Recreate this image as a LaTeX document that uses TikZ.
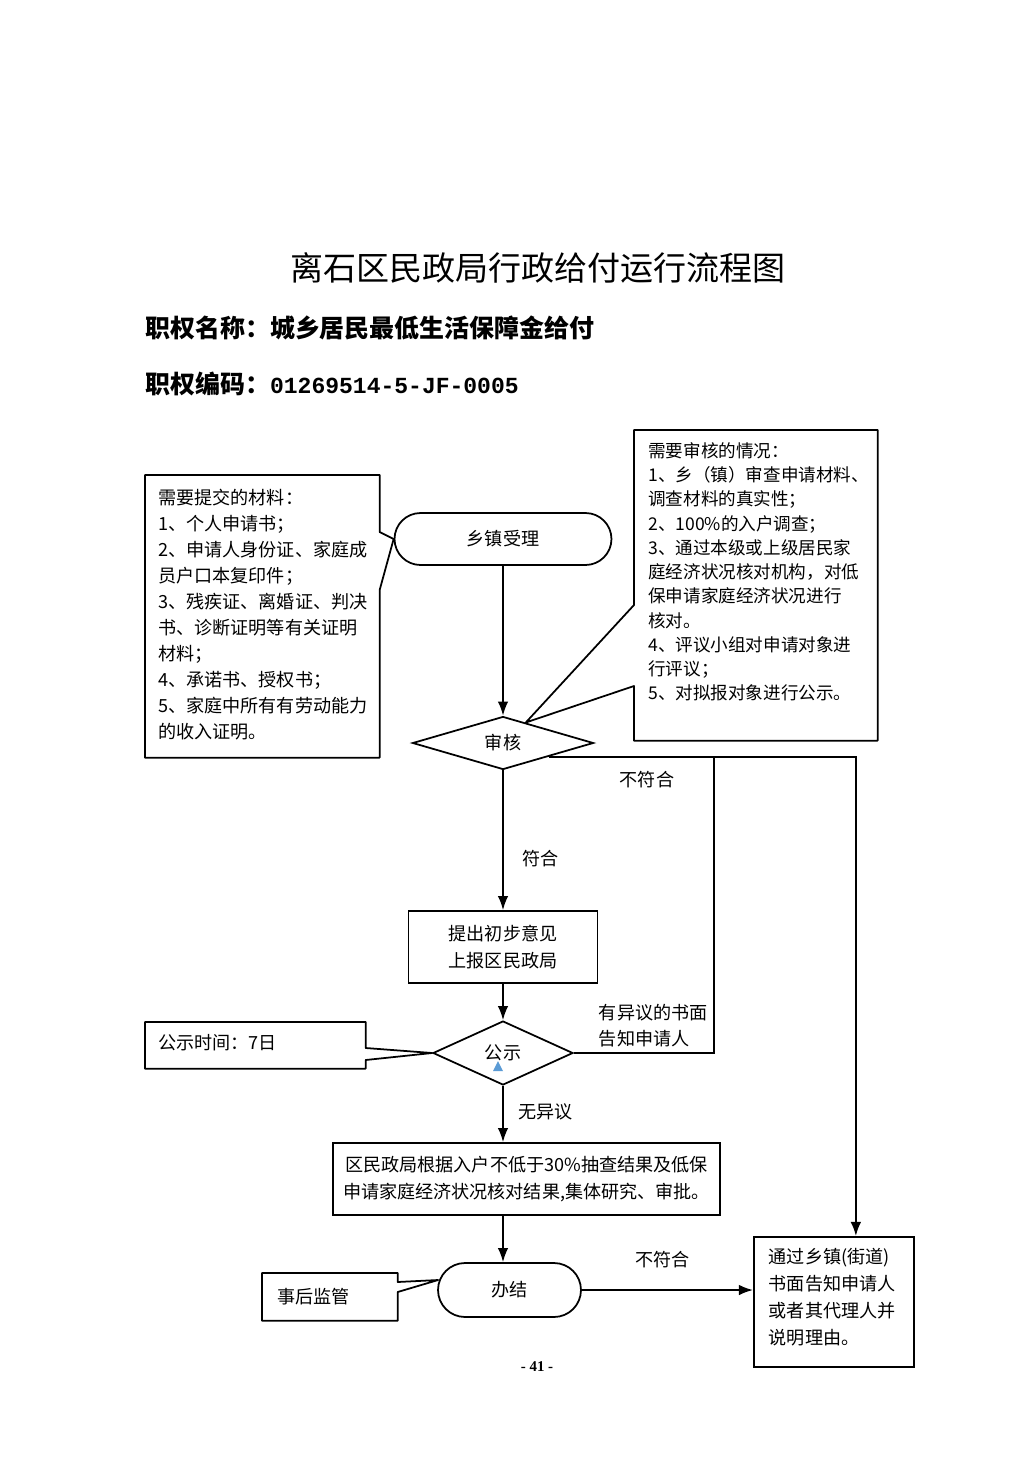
\documentclass[tikz,border=0pt]{standalone}
\usepackage{fontspec}
\setmainfont{Noto Sans CJK SC}
\newfontfamily\codefont{Liberation Mono}
\newfontfamily\pagefont{Liberation Serif}
\usetikzlibrary{shapes.geometric, arrows.meta, positioning, calc}
\definecolor{markblue}{RGB}{91,155,213}

\begin{document}
\begin{tikzpicture}[x=0.02cm, y=-0.02cm,
            box/.style={rectangle, draw, line width=1pt, align=center, font=\fontsize{10.3}{15.4}\selectfont},
            term/.style={rectangle, rounded corners=0.52cm, draw, line width=1pt, font=\fontsize{10.3}{15}\selectfont},
            check/.style={diamond, draw, line width=1pt, inner sep=0pt, font=\fontsize{10.3}{15}\selectfont},
            note/.style={rectangle, anchor=north west, inner ysep=0pt, inner xsep=0.26cm, align=left, font=\fontsize{10.3}{14.8}\selectfont},
            outline/.style={line width=1pt, line join=round},
            flow/.style={-{Latex[length=8pt,width=6pt]}, line width=1pt},
            lbl/.style={font=\fontsize{10.3}{14.8}\selectfont}
        ]
            \useasboundingbox (0,0) rectangle (1033,1461);

% Heading
            \node[font=\fontsize{18.8}{22}\selectfont] (title) at (538,268) {离石区民政局行政给付运行流程图};
            \node[anchor=west, inner sep=0pt, font=\bfseries\fontsize{14.2}{17}\selectfont] (powname) at (145,328) {职权名称：城乡居民最低生活保障金给付};
            \node[anchor=west, inner sep=0pt, font=\bfseries\fontsize{14.2}{17}\selectfont] (powcode) at (145,384) {职权编码：{\codefont\fontsize{13.1}{17}\selectfont 01269514-5-JF-0005}};

% Main steps
            \node[term, minimum width=4.34cm, minimum height=1.04cm] (accept) at (503,539) {乡镇受理};
            \node[check, minimum width=3.62cm, minimum height=1.04cm] (review) at (503,743) {审核};
            \node[box, minimum width=3.78cm, minimum height=1.44cm] (prelim) at (503,947) {提出初步意见\\上报区民政局};
            \node[check, minimum width=2.8cm, minimum height=1.28cm] (publicity) at (503,1053) {公示};
            \node[box, minimum width=7.74cm, minimum height=1.44cm] (approve) at (526.5,1179) {区民政局根据入户不低于30\%抽查结果及低保\\申请家庭经济状况核对结果,集体研究、审批。};
            \node[term, rounded corners=0.54cm, minimum width=2.86cm, minimum height=1.08cm] (finish) at (509.5,1290) {办结};
            \node[note, draw, line width=1pt, inner xsep=0.3cm, text width=2.6cm, text height=0.54cm, text depth=2.06cm, font=\fontsize{10.3}{15.2}\selectfont] (notice) at (753,1236) {通过乡镇(街道)\\书面告知申请人\\或者其代理人并\\说明理由。};

% Side notes
            \node[note, text width=4.16cm, text height=0.58cm, text depth=5.06cm] (materials) at (145,475) {需要提交的材料：\\1、个人申请书；\\2、申请人身份证、家庭成\\员户口本复印件；\\3、残疾证、离婚证、判决\\书、诊断证明等有关证明\\材料；\\4、承诺书、授权书；\\5、家庭中所有有劳动能力\\的收入证明。};
            \node[note, inner xsep=0.28cm, text width=4.3cm, text height=0.54cm, text depth=5.66cm, font=\fontsize{10}{13.8}\selectfont] (checklist) at (634,430) {需要审核的情况：\\1、乡（镇）审查申请材料、\\调查材料的真实性；\\2、100\%的入户调查；\\3、通过本级或上级居民家\\庭经济状况核对机构，对低\\保申请家庭经济状况进行\\核对。\\4、评议小组对申请对象进\\行评议；\\5、对拟报对象进行公示。};
            \node[note, text width=3.88cm, text height=0.54cm, text depth=0.38cm] (pubtime) at (145,1022) {公示时间：7日};
            \node[note, inner xsep=0.3cm, text width=2.1cm, text height=0.6cm, text depth=0.34cm] (supervise) at (262,1273) {事后监管};

            \draw[outline] (materials.north west) -- (materials.north east) -- ($(materials.north east)+(0,57)$) -- (accept.west) -- ($(materials.north east)+(0,115)$) -- (materials.south east) -- (materials.south west) -- cycle;
            \draw[outline] (checklist.north west) -- (checklist.north east) -- (checklist.south east) -- (checklist.south west) -- ($(checklist.north west)+(0,256)$) -- ($(review.north)!0.25!(review.east)$) -- ($(checklist.north west)+(0,175)$) -- cycle;
            \draw[outline] (pubtime.north west) -- (pubtime.north east) -- ($(pubtime.north east)+(0,26)$) -- (publicity.west) -- ($(pubtime.north east)+(0,38)$) -- (pubtime.south east) -- (pubtime.south west) -- cycle;
            \draw[outline] (supervise.north west) -- (supervise.north east) -- ($(supervise.north east)+(0,9)$) -- ($(finish.west)+(1,-10)$) -- ($(supervise.north east)+(0,19)$) -- (supervise.south east) -- (supervise.south west) -- cycle;

% Arrows
            \coordinate (rejA) at ($(review.east)!0.5!(review.south)$);
            \coordinate (rejJoin) at ($(rejA)+(165,0)$);
            \coordinate (noticeIn) at ($(notice.north)+(22,0)$);
            \draw[flow] (accept) -- (review);
            \draw[flow] (review) -- node[lbl, pos=0.63, right=0.26cm] {符合} (prelim);
            \draw[flow] (prelim) -- (publicity);
            \draw[flow] (publicity) -- node[lbl, pos=0.47, right=0.18cm] {无异议} (publicity |- approve.north);
            \draw[flow] (approve.south -| review) -- (finish.north -| review);
            \draw[flow] (rejA) -| node[lbl, pos=0.16, below=0.16cm] {不符合} (noticeIn);
            \draw[line width=1pt] (publicity.east) -| node[lbl, pos=0.5, anchor=south east, align=left, inner sep=3pt] {有异议的书面\\告知申请人} (rejJoin);
            \draw[flow] (finish.east) -- node[lbl, pos=0.47, above=0.3cm] {不符合} (finish.east -| notice.west);

            \fill[markblue] (493,1071) -- (503,1071) -- (498,1061) -- cycle;
            \node[font=\pagefont\bfseries\fontsize{8.5}{10}\selectfont] (pagenum) at (537,1367) {- 41 -};

        \end{tikzpicture}
\end{document}
